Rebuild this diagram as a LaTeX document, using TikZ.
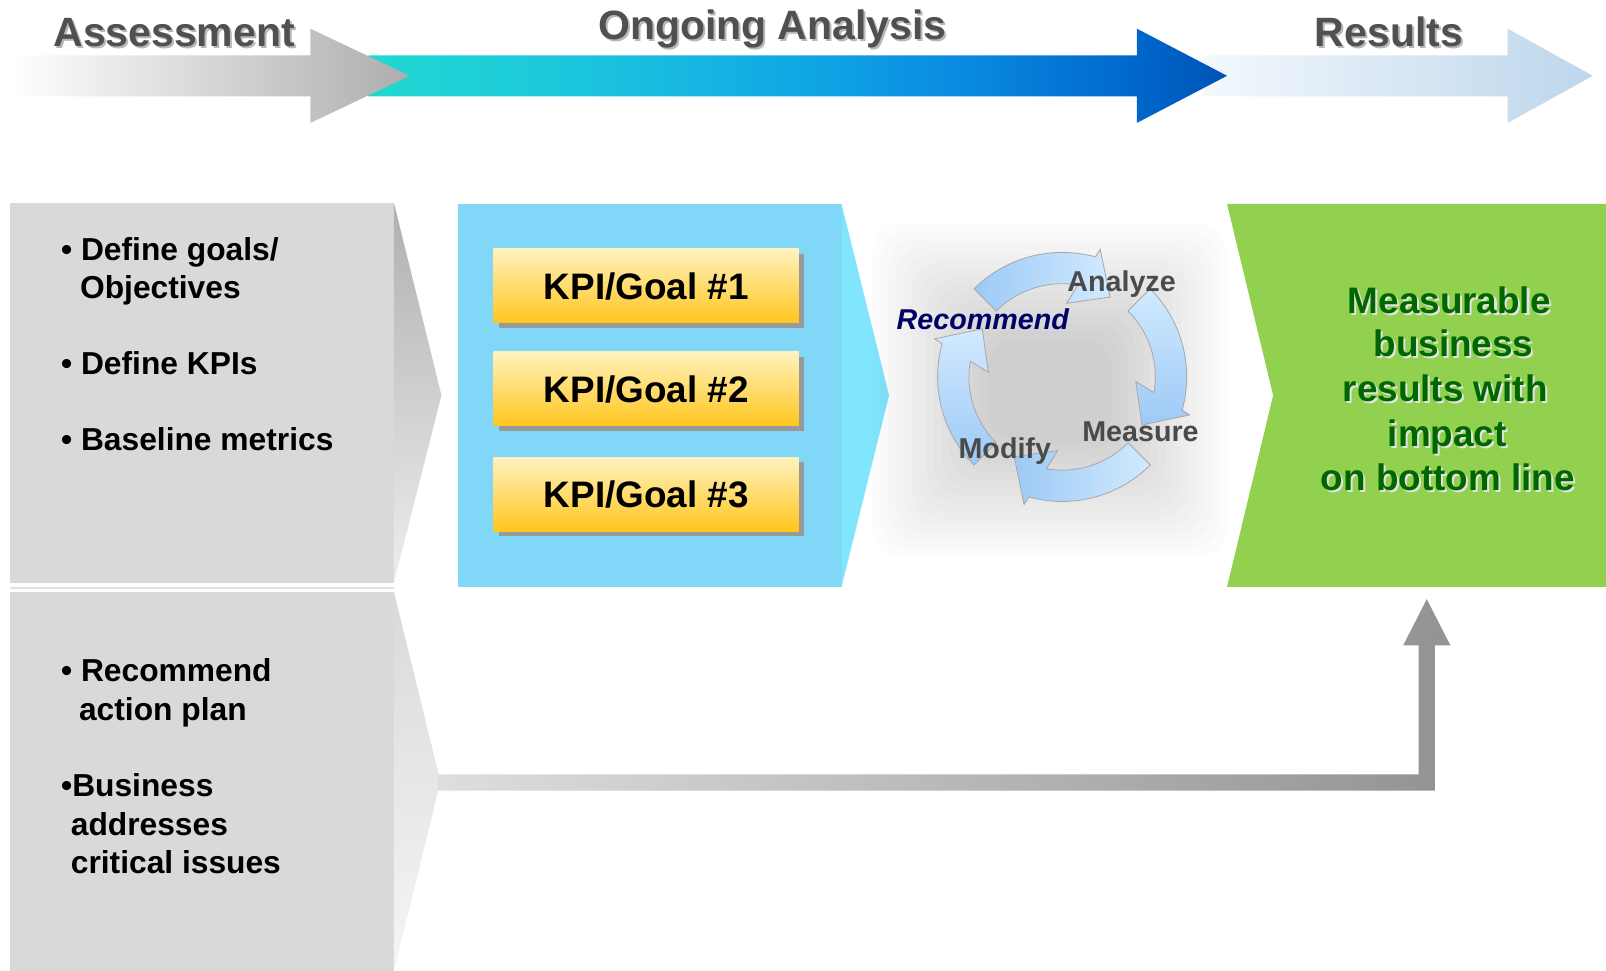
\documentclass[tikz,border=0pt]{standalone}
\usepackage{fontspec}
\setmainfont{Liberation Sans}
\usetikzlibrary{calc,shadows}

\definecolor{titlegray}{HTML}{505050}
\definecolor{titleshadow}{HTML}{9A9A9A}
\definecolor{panelgray}{HTML}{D9D9D9}
\definecolor{kpiblue}{HTML}{81D7F7}
\definecolor{kpicyan}{HTML}{80E5FD}
\definecolor{kpitop}{HTML}{FFF2BE}
\definecolor{kpimid}{HTML}{FFE48E}
\definecolor{kpibot}{HTML}{FFC61E}
\definecolor{kpishadow}{HTML}{999999}
\definecolor{resgreen}{HTML}{92D050}
\definecolor{resdark}{HTML}{006600}
\definecolor{resshade}{HTML}{E2E2E2}
\definecolor{reslight}{HTML}{F3F8FC}
\definecolor{resblue}{HTML}{BDD6EC}
\definecolor{cyclelight}{HTML}{D2EAFF}
\definecolor{cycledark}{HTML}{9CCAF6}
\definecolor{cycleedge}{HTML}{A8A8A8}
\definecolor{cycletext}{HTML}{4A4A4A}
\definecolor{navytext}{HTML}{000066}
\definecolor{connlight}{HTML}{DEDEDE}
\definecolor{conndark}{HTML}{939393}
\definecolor{anA}{HTML}{20D8D0}
\definecolor{anB}{HTML}{1CC6DD}
\definecolor{anC}{HTML}{10A8E4}
\definecolor{anD}{HTML}{0A8CE2}
\definecolor{anE}{HTML}{0068CC}
\definecolor{anF}{HTML}{0052B6}

% turquoise-to-blue band of the analysis arrow
\pgfdeclarehorizontalshading{analysisband}{100bp}{color(0bp)=(anA); color(25bp)=(anA);
  color(37bp)=(anB); color(50bp)=(anC); color(59bp)=(anD); color(69.4bp)=(anE);
  color(75bp)=(anF); color(100bp)=(anF)}

% one curved block arrow of the cycle, turned clockwise by #1 degrees
\newcommand\cyclearrow[2]{%
  \shade[draw=cycleedge, line width=0.8pt, #2]
    plot[domain=135:74.5, samples=30] ({#1-\x}:121.6)
    -- ({#1-73.4}:130) -- ({#1-59}:91) -- ({#1-86.5}:72)
    -- plot[domain=80.3:135, samples=30] ({#1-\x}:91) -- cycle;}

\begin{document}
\begin{tikzpicture}[x=1pt, y=-1pt,
  titletext/.style={font=\fontsize{40}{48}\selectfont\bfseries, text=titlegray, anchor=base, inner sep=0pt},
  titleshade/.style={titletext, text=titleshadow, opacity=0.7},
  bullet/.style={font=\fontsize{31}{38}\selectfont\bfseries, anchor=base west, inner sep=0pt},
  kpibox/.style={minimum width=298pt, minimum height=72pt, inner sep=0pt,
    top color=kpitop, middle color=kpimid, bottom color=kpibot,
    font=\fontsize{36}{43}\selectfont\bfseries, text height=26pt, text depth=0pt,
    drop shadow={shadow xshift=5pt, shadow yshift=-5pt, fill=kpishadow, opacity=1}},
  restext/.style={font=\fontsize{36}{43}\selectfont\bfseries, text=resdark, anchor=base, inner sep=0pt},
  resshadow/.style={restext, text=resshade},
  cyclabel/.style={font=\fontsize{28}{34}\selectfont\bfseries, text=cycletext, anchor=base, inner sep=0pt},
]
\useasboundingbox (0,0) rectangle (1568,948);
\fill[white] (0,0) rectangle (1568,948);

% ---- phase arrows along the top ----
\shade[left color=reslight, right color=resblue]
  (1175,54) -- (1472,54) -- (1472,28) -- (1555,74) -- (1472,120) -- (1472,94) -- (1175,94) -- cycle;
\shade[shading=analysisband]
  (360,54) -- (1110,54) -- (1110,28) -- (1198,74) -- (1110,120) -- (1110,94) -- (360,94) -- cycle;
\shade[left color=white, right color=gray!64]
  (10,54) -- (303,54) -- (303,28) -- (400,74) -- (303,120) -- (303,94) -- (10,94) -- cycle;

\node[titleshade] (assess-sh) at (172,47.5) {Assessment};
\node[titletext]  (assess)    at (170,45.5) {Assessment};
\node[titleshade] (ongoing-sh) at (756,40.4) {Ongoing Analysis};
\node[titletext]  (ongoing)    at (754,38.4) {Ongoing Analysis};
\node[titleshade] (results-sh) at (1358,47.5) {Results};
\node[titletext]  (results)    at (1356,45.5) {Results};

% ---- assessment panels ----
\fill[panelgray] (10,198) rectangle (385,569);
\shade[top color=gray!62, bottom color=gray!14] (384.6,198) -- (431,386) -- (384.6,569) -- cycle;
\fill[gray!22] (10,573) rectangle (385,574.6);
\fill[panelgray] (10,578) rectangle (385,948);
\shade[top color=panelgray, bottom color=gray!8] (384.6,578) -- (430,763) -- (384.6,948) -- cycle;
\coordinate (lowtip) at (428,764);

\node[bullet] (g1)  at (59.5,254.5) {• Define goals/};
\node[bullet] (g1b) at (78,291.3)   {Objectives};
\node[bullet] (g2)  at (59.5,366)   {• Define KPIs};
\node[bullet] (g3)  at (59.5,439.4) {• Baseline metrics};

\node[bullet] (a1)  at (59.5,665.6) {• Recommend};
\node[bullet] (a1b) at (77,703)     {action plan};
\node[bullet] (a2)  at (59.5,778)   {•Business};
\node[bullet] (a2b) at (69,816)     {addresses};
\node[bullet] (a2c) at (69,852.7)   {critical issues};

% ---- KPI panel ----
\fill[kpiblue] (447,199) rectangle (822,573);
\fill[kpicyan] (821.6,199) -- (868,386) -- (821.6,573) -- cycle;

\node[kpibox] (kpi1) at (631,279)   {KPI/Goal \#1};
\node[kpibox] (kpi2) at (631,379.5) {KPI/Goal \#2};
\node[kpibox] (kpi3) at (631,482.5) {KPI/Goal \#3};

% ---- analysis cycle ----
\begin{scope}[shift={(1025,381)}]
  \foreach \i in {0,...,15}
    \fill[black, opacity=0.012, rounded corners=30pt]
      ({-173+7.5*\i},{-163+7.5*\i}) rectangle ({173-7.5*\i},{163-7.5*\i});
\end{scope}

\coordinate (cyc) at (1037,368);
\begin{scope}[shift={(cyc)}]
  \cyclearrow{0}{left color=cycledark, right color=cyclelight}
  \cyclearrow{90}{top color=cyclelight, bottom color=cycledark}
  \cyclearrow{180}{left color=cycledark, right color=cyclelight}
  \cyclearrow{270}{top color=cyclelight, bottom color=cycledark}
\end{scope}

\node[cyclabel] (analyze) at (1095,284.8) {Analyze};
\node[cyclabel] (measure) at (1113.5,431) {Measure};
\node[cyclabel] (modify)  at (981,447.5)  {Modify};
\node[cyclabel, text=navytext, font=\fontsize{28}{34}\selectfont\bfseries\itshape]
  (recommend) at (959.5,322) {Recommend};

% ---- results panel ----
\fill[resgreen] (1198,199) -- (1568,199) -- (1568,573) -- (1198,573) -- (1243,386) -- cycle;
\coordinate (resfoot) at (1393,585);

\node[resshadow] (r1-sh) at (1417,308)   {Measurable};
\node[restext]   (r1)    at (1415,306)   {Measurable};
\node[resshadow] (r2-sh) at (1421,350)   {business};
\node[restext]   (r2)    at (1419,348)   {business};
\node[resshadow] (r3-sh) at (1413,394)   {results with};
\node[restext]   (r3)    at (1411,392)   {results with};
\node[resshadow] (r4-sh) at (1415,437.5) {impact};
\node[restext]   (r4)    at (1413,435.5) {impact};
\node[resshadow] (r5-sh) at (1415.5,480.5) {on bottom line};
\node[restext]   (r5)    at (1413.5,478.5) {on bottom line};

% ---- action path from the lower panel up to the results ----
\shade[left color=connlight, right color=conndark]
  ($(lowtip)+(0,-8)$) -| ($(resfoot)+(-8,45)$) -- ($(resfoot)+(-23,45)$) -- (resfoot)
  -- ($(resfoot)+(23,45)$) -- ($(resfoot)+(8,45)$) |- ($(lowtip)+(0,8)$) -- cycle;
\end{tikzpicture}
\end{document}
